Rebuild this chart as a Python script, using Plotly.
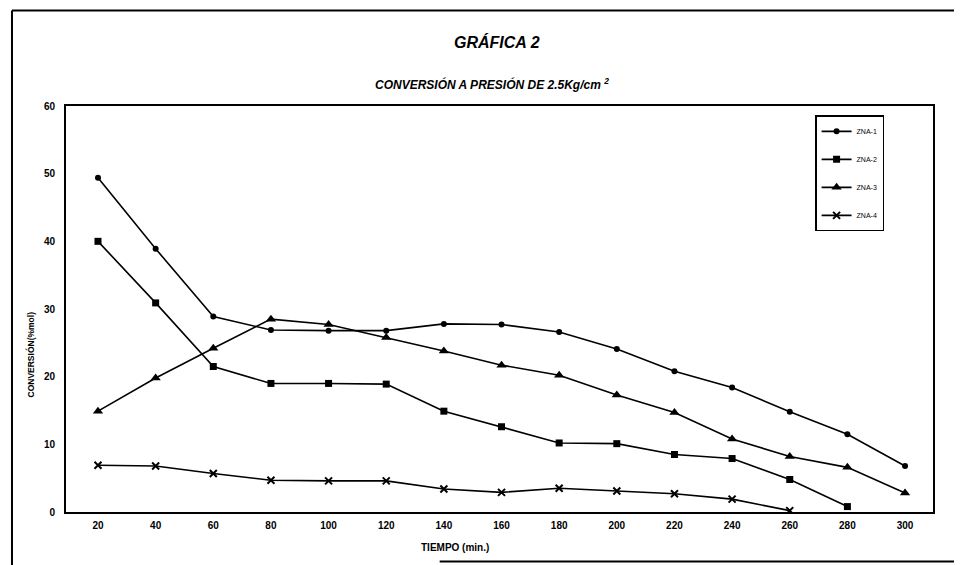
import plotly.graph_objects as go

tiempo = [20, 40, 60, 80, 100, 120, 140, 160, 180, 200, 220, 240, 260, 280, 300]
zna1 = [49.4, 38.9, 28.9, 26.9, 26.8, 26.8, 27.8, 27.7, 26.6, 24.1, 20.8, 18.4, 14.8, 11.5, 6.8]
zna2 = [40.0, 30.9, 21.5, 19.0, 19.0, 18.9, 14.9, 12.6, 10.2, 10.1, 8.5, 7.9, 4.8, 0.8]
zna3 = [14.9, 19.8, 24.2, 28.5, 27.7, 25.8, 23.8, 21.7, 20.2, 17.3, 14.7, 10.8, 8.2, 6.6, 2.8]
zna4 = [6.9, 6.8, 5.7, 4.7, 4.6, 4.6, 3.4, 2.9, 3.5, 3.1, 2.7, 1.9, 0.2]
names = ["ZNA-1", "ZNA-2", "ZNA-3", "ZNA-4"]
x_ticks = tiempo
y_ticks = [0, 10, 20, 30, 40, 50, 60]

series = [zna1, zna2, zna3, zna4]
symbols = ["circle", "square", "triangle-up", "x-thin"]
sizes = [6, 7, 9, 7]

fig = go.Figure()
for i, (name, vals) in enumerate(zip(names, series)):
    fig.add_trace(go.Scatter(
        x=tiempo[:len(vals)], y=vals, name=name, mode="lines+markers",
        legendgroup=name,
        line=dict(color="black", width=1.6),
        marker=dict(symbol=symbols[i], size=sizes[i], color="black",
                    line=dict(color="black", width=2 if symbols[i] == "x-thin" else 0)),
    ))

font_main = "Liberation Sans, Arial, sans-serif"
fig.update_layout(
    width=962, height=565,
    margin=dict(l=58, r=37, t=98, b=61),
    paper_bgcolor="white", plot_bgcolor="white",
    font=dict(family=font_main, color="black"),
    showlegend=True,
    legend=dict(x=0.864, y=0.977, xanchor="left", yanchor="top",
                bordercolor="black", borderwidth=1.5, bgcolor="white",
                font=dict(size=7, color="black"),
                traceorder="grouped", tracegroupgap=9, itemwidth=30),
    xaxis=dict(range=[8.9, 309.7], tickvals=x_ticks, showgrid=False, zeroline=False,
               showline=True, linecolor="black", linewidth=2, mirror=True,
               ticks="", ticklabelstandoff=3,
               tickfont=dict(size=10, family=font_main, weight="bold")),
    yaxis=dict(range=[0, 60], tickvals=y_ticks, showgrid=False, zeroline=False,
               showline=True, linecolor="black", linewidth=2, mirror=True,
               ticks="", ticklabelstandoff=7,
               tickfont=dict(size=10, family=font_main, weight="bold")),
    annotations=[
        dict(text="<b><i>GRÁFICA 2</i></b>", xref="paper", yref="paper", x=0.497, y=1.157,
             xanchor="center", yanchor="middle", showarrow=False, font=dict(size=16)),
        dict(text="<b><i>CONVERSIÓN A PRESIÓN DE 2.5Kg/cm <sup>2</sup></i></b>", xref="paper",
             yref="paper", x=0.4914, y=1.053, xanchor="center", yanchor="middle",
             showarrow=False, font=dict(size=12)),
        dict(text="<b>CONVERSIÓN(%mol)</b>", xref="paper", yref="paper", x=-0.0415, y=0.388,
             xanchor="center", yanchor="middle", textangle=-90, showarrow=False,
             font=dict(size=8.5)),
        dict(text="<b>TIEMPO (min.)</b>", xref="paper", yref="paper", x=0.4487, y=-0.087,
             xanchor="center", yanchor="middle", showarrow=False, font=dict(size=10)),
    ],
    shapes=[
        dict(type="line", xref="paper", yref="paper", x0=-0.0623, x1=1.1, y0=1.235, y1=1.235,
             line=dict(color="black", width=2)),
        dict(type="line", xref="paper", yref="paper", x0=-0.0623, x1=-0.0623, y0=1.235, y1=-0.2,
             line=dict(color="black", width=2)),
        dict(type="line", xref="paper", yref="paper", x0=0.431, x1=1.1, y0=-0.122, y1=-0.122,
             line=dict(color="black", width=2)),
    ],
)

fig.write_html("out.html")
